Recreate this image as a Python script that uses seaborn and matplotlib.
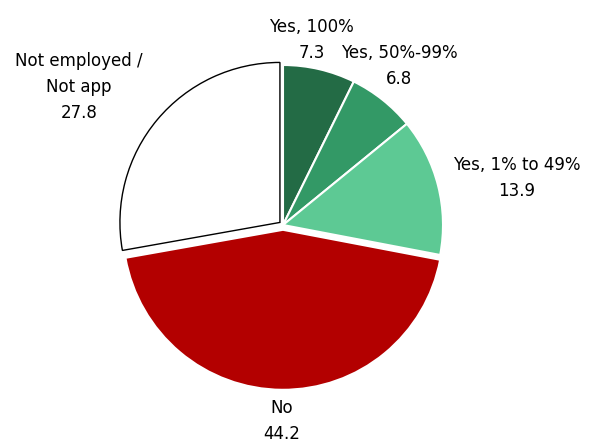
import matplotlib
matplotlib.use("Agg")
import matplotlib.pyplot as plt
import seaborn as sns

categories = ["Yes, 100%", "Yes, 50%-99%", "Yes, 1% to 49%", "No", "Not employed /\nNot app"]
values = [7.3, 6.8, 13.9, 44.2, 27.8]

colors = ["#236B45", "#339966", "#5DC994", "#B30000", "#FFFFFF"]
explode = [0.0, 0.0, 0.0, 0.03, 0.025]
label_pos = [(0.18, 1.156), (0.725, 0.994), (1.462, 0.294), (-0.006, -1.225), (-1.275, 0.862)]

sns.set_theme(style="white")
plt.rcParams['font.family'] = ['DejaVu Sans']

fig = plt.figure(figsize=(5.93, 4.42), dpi=100)
ax = fig.add_axes([0, 0, 1, 1])
cx, cy, r = 283, 225, 160
W, H = 593, 442

wedges, _ = ax.pie(values, colors=colors, startangle=90, counterclock=False,
                   explode=explode, radius=1.0,
                   wedgeprops=dict(edgecolor="white", linewidth=1.5))
wedges[-1].set_edgecolor("black")
wedges[-1].set_linewidth(1.0)

for cat, val, (x, y) in zip(categories, values, label_pos):
    ax.text(x, y, f"{cat}\n{val:.1f}", ha="center", va="center",
            fontsize=12, color="black", linespacing=1.55)

ax.set_xlim(-cx / r, (W - cx) / r)
ax.set_ylim(-(H - cy) / r, cy / r)
ax.set_aspect("auto")
ax.axis("off")
fig.savefig("out.png", dpi=100)
